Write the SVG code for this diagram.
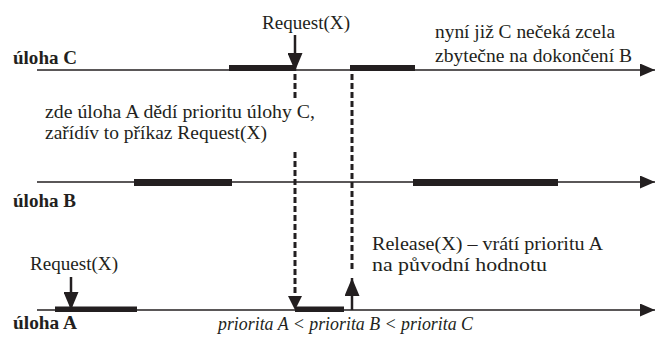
<svg xmlns="http://www.w3.org/2000/svg" width="656" height="342" viewBox="0 0 656 342">
<style>
text{font-family:'Liberation Serif','Times New Roman',serif;font-size:19px;fill:#231f20}
.b{font-weight:bold}
.i{font-style:italic;font-size:18px}
.tl{stroke:#231f20;stroke-width:1.4;fill:none}
.bar{fill:#231f20}
.dash{stroke:#231f20;stroke-width:3;stroke-dasharray:6,3;fill:none}
.solid{stroke:#231f20;stroke-width:2.5;fill:none}
</style>
<defs>
<marker id="ah" viewBox="0 0 15 13" refX="15" refY="6.5" markerWidth="15" markerHeight="13" markerUnits="userSpaceOnUse" orient="auto">
<path d="M0,0 L15,6.5 L0,13 Z" fill="#231f20"/>
</marker>
<marker id="ah2" viewBox="0 0 18 15" refX="18" refY="7.5" markerWidth="18" markerHeight="15" markerUnits="userSpaceOnUse" orient="auto">
<path d="M0,0 L18,7.5 L0,15 Z" fill="#231f20"/>
</marker>
</defs>
<g id="taskC">
<line class="tl" x1="37" y1="70" x2="655" y2="70" marker-end="url(#ah)"/>
<rect class="bar" x="229" y="65" width="66" height="6"/>
<rect class="bar" x="350" y="65" width="65" height="6"/>
<text class="b" x="13" y="64" textLength="64" lengthAdjust="spacingAndGlyphs">úloha C</text>
</g>
<g id="taskB">
<line class="tl" x1="37" y1="182" x2="655" y2="182" marker-end="url(#ah)"/>
<rect class="bar" x="134" y="179" width="98" height="7"/>
<rect class="bar" x="413" y="179" width="145" height="7"/>
<text class="b" x="13" y="207" textLength="63" lengthAdjust="spacingAndGlyphs">úloha B</text>
</g>
<g id="taskA">
<line class="tl" x1="37" y1="310" x2="655" y2="310" marker-end="url(#ah)"/>
<rect class="bar" x="55" y="306.5" width="82" height="5.5"/>
<rect class="bar" x="295" y="306.5" width="49" height="5.5"/>
<text class="b" x="13" y="329" textLength="64" lengthAdjust="spacingAndGlyphs">úloha A</text>
</g>
<g id="connectors">
<line class="solid" x1="295" y1="35" x2="295" y2="71" marker-end="url(#ah2)"/>
<line class="solid" x1="71" y1="277" x2="71" y2="310" marker-end="url(#ah2)"/>
<line class="dash" x1="295" y1="74" x2="295" y2="98"/>
<line class="dash" x1="295" y1="152" x2="295" y2="297"/>
<path d="M288,296 L302,296 L295,310 Z" fill="#231f20"/>
<line class="dash" x1="352" y1="74" x2="352" y2="272"/>
<line class="solid" x1="352" y1="310" x2="352" y2="278" marker-end="url(#ah2)"/>
</g>
<g id="labels">
<text x="262" y="29" textLength="88" lengthAdjust="spacingAndGlyphs">Request(X)</text>
<text x="435" y="38" textLength="180" lengthAdjust="spacingAndGlyphs">nyní již C nečeká zcela</text>
<text x="435" y="62" textLength="197" lengthAdjust="spacingAndGlyphs">zbytečne na dokončení B</text>
<text x="45" y="118" textLength="270" lengthAdjust="spacingAndGlyphs">zde úloha A dědí prioritu úlohy C,</text>
<text x="45" y="139" textLength="222" lengthAdjust="spacingAndGlyphs">zařídív to příkaz Request(X)</text>
<text x="372" y="250" textLength="231" lengthAdjust="spacingAndGlyphs">Release(X) – vrátí prioritu A</text>
<text x="372" y="271" textLength="175" lengthAdjust="spacingAndGlyphs">na původní hodnotu</text>
<text x="30" y="270" textLength="88" lengthAdjust="spacingAndGlyphs">Request(X)</text>
<text class="i" x="218" y="330" textLength="255" lengthAdjust="spacingAndGlyphs">priorita A &lt; priorita B &lt; priorita C</text>
</g>
</svg>
